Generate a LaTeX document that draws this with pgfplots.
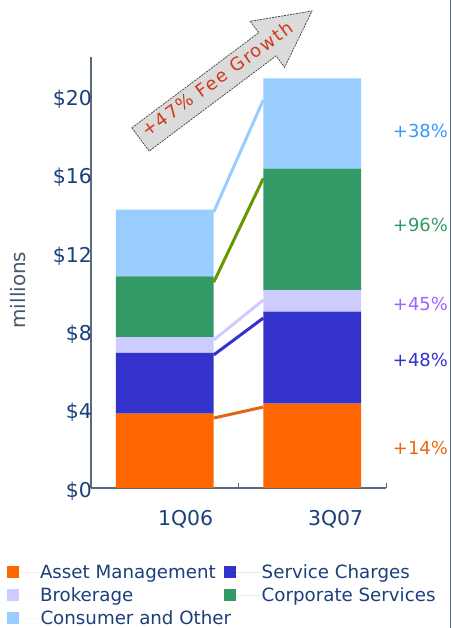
\documentclass[border=0pt]{standalone}
\usepackage{fontspec}
\setmainfont{DejaVu Sans}
\newfontfamily\arrowfont[LetterSpace=9]{DejaVu Sans}
\usepackage{pgfplots}
\pgfplotsset{compat=1.18}
\definecolor{cAsset}{HTML}{FF6600}
\definecolor{cServ}{HTML}{3333CC}
\definecolor{cBrok}{HTML}{CCCCFF}
\definecolor{cCorp}{HTML}{339966}
\definecolor{cCons}{HTML}{99CCFF}
\definecolor{lAsset}{HTML}{E0661A}
\definecolor{lCorp}{HTML}{669900}
\definecolor{navy}{HTML}{1B3F7A}
\definecolor{axisc}{HTML}{5A6A7A}
\definecolor{labc}{HTML}{46566A}
\definecolor{t38}{HTML}{3399FF}
\definecolor{t45}{HTML}{9966FF}
\definecolor{t14}{HTML}{E86A10}
\definecolor{arrowtxt}{HTML}{D03A1A}
\pgfplotsset{
  sqimg/.style={legend image code/.code={\fill[##1,draw=none] (0bp,-5.5bp) rectangle (12bp,6.5bp); \path (0bp,0bp)--(33bp,0bp);}},
  sqimgwide/.style={legend image code/.code={\fill[##1,draw=none] (0bp,-5.5bp) rectangle (12bp,6.5bp); \path (0bp,0bp)--(38bp,0bp);}},
}
\begin{document}
\begin{tikzpicture}[x=1bp,y=1bp]
\useasboundingbox (0,0) rectangle (452,628);
\begin{axis}[
  at={(91bp,140bp)}, anchor=south west, scale only axis,
  width=295bp, height=431.2bp,
  xmin=-0.5, xmax=1.5, ymin=0, ymax=22,
  ybar stacked, bar width=0.664,
  axis x line*=bottom, axis y line*=left,
  axis line style={-, color=axisc, line width=1.3bp},
  xtick={0.5,1.5}, xticklabels={}, tick align=inside,
  major tick length=5bp,
  x tick style={color=axisc, line width=1bp},
  y tick style={draw=none},
  extra x ticks={0.142,1.159}, extra x tick labels={1Q06,3Q07},
  extra x tick style={major tick length=0pt},
  xticklabel style={font=\fontsize{20.5}{24}\selectfont, color=navy, inner sep=0pt, anchor=north, yshift=-22bp},
  ytick={0,4,8,12,16,20},
  yticklabels={\$0,\$4,\$8,\$12,\$16,\$20},
  yticklabel style={font=\fontsize{20.5}{24}\selectfont, color=navy, anchor=east, inner sep=0pt, xshift=1bp, yshift=-3bp},
  ylabel={millions},
  every axis y label/.style={at={(axis description cs:-0.247,0.459)}, anchor=center, rotate=90, font=\fontsize{20}{24}\selectfont, color=labc},
  clip=false,
  legend columns=2,
  legend style={at={(axis description cs:-0.2847,-0.1786)}, anchor=north west, draw=none, fill=none,
    font=\fontsize{18.3}{22}\selectfont, text=navy, inner sep=0pt, outer sep=0pt,
    column sep=0pt, row sep=7.5bp, cells={anchor=west}, nodes={inner sep=0pt},
    /tikz/every even column/.append style={column sep=8bp}},
  sqimg,
]
\addplot[fill=cAsset, draw=none] coordinates {(0,3.8) (1,4.3)};
\addlegendentry{Asset Management}
\addplot[fill=cServ, draw=none, sqimgwide] coordinates {(0,3.1) (1,4.7)};
\addlegendentry{Service Charges}
\addplot[fill=cBrok, draw=none] coordinates {(0,0.8) (1,1.1)};
\addlegendentry{Brokerage}
\addplot[fill=cCorp, draw=none, sqimgwide] coordinates {(0,3.1) (1,6.2)};
\addlegendentry{Corporate Services}
\addplot[fill=cCons, draw=none] coordinates {(0,3.4) (1,4.6)};
\addlegendentry{\makebox[0pt][l]{Consumer and Other}}
\coordinate (p38) at (axis cs:1.546,18.21);
\coordinate (p96) at (axis cs:1.546,13.42);
\coordinate (p45) at (axis cs:1.546,9.39);
\coordinate (p48) at (axis cs:1.546,6.53);
\coordinate (p14) at (axis cs:1.546,2.04);
\end{axis}
\begin{axis}[
  at={(91bp,140bp)}, anchor=south west, scale only axis,
  width=295bp, height=431.2bp,
  xmin=-0.5, xmax=1.5, ymin=0, ymax=22,
  hide axis,
]
\addplot[lAsset, line width=3bp, line cap=butt] coordinates {(0.332,3.57) (0.668,4.13)};
\addplot[cServ, line width=3bp, line cap=butt] coordinates {(0.332,6.79) (0.668,8.67)};
\addplot[cBrok, line width=3bp, line cap=butt] coordinates {(0.332,7.55) (0.668,9.59)};
\addplot[lCorp, line width=3bp, line cap=butt] coordinates {(0.332,10.5) (0.668,15.8)};
\addplot[cCons, line width=3bp, line cap=butt] coordinates {(0.332,14.08) (0.668,19.8)};
\end{axis}
\begin{scope}
\clip (0,0) rectangle (450,628);
\tikzset{pl/.style={anchor=west, inner sep=0pt, font=\fontsize{18}{21}\selectfont}}
\node[pl, text=t38] at (p38) {+38\%};
\node[pl, text=cCorp] at (p96) {+96\%};
\node[pl, text=t45] at (p45) {+45\%};
\node[pl, text=cServ] at (p48) {+48\%};
\node[pl, text=t14] at (p14) {+14\%};
\end{scope}
\draw[color=axisc, line width=1bp] (450.5,0) -- (450.5,628);
% arrow
\filldraw[fill=black!14, draw=black!70, line width=0.8bp, dash pattern=on 2bp off 1bp]
  (131.8,500.1) -- (258.7,595.3) -- (250.2,606.7) -- (312,617) -- (284.6,560.7) -- (276.1,572.1) -- (149.2,476.9) -- cycle;
\node[rotate=36, text=arrowtxt, font=\arrowfont\fontsize{18}{21}\selectfont, inner sep=0pt] at (217,549) {+47\% Fee Growth};
\end{tikzpicture}
\end{document}
